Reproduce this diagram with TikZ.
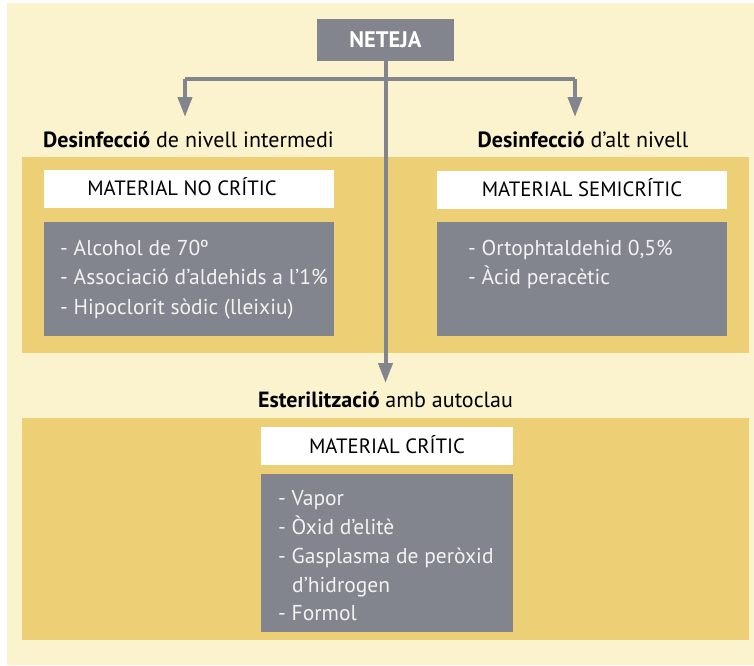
\documentclass[tikz,border=0pt]{standalone}
\usepackage{fontspec}
\setmainfont{PT Sans}
\usetikzlibrary{arrows.meta}
\definecolor{cream}{RGB}{251,242,206}
\definecolor{gold}{RGB}{237,207,118}
\definecolor{slate}{RGB}{130,133,142}
\definecolor{lighttext}{RGB}{242,242,242}
\tikzset{
  band/.style={fill=gold, draw=none, minimum width=727pt, inner sep=0pt},
  whitebox/.style={fill=white, draw=none, minimum height=38pt, inner sep=0pt},
  boxlabel/.style={inner sep=0pt, anchor=base, font=\fontsize{20.7}{24}\selectfont, text=black},
  graybox/.style={fill=slate, draw=none, inner sep=0pt},
  item/.style={anchor=base west, inner sep=0pt, text=lighttext, font=\fontsize{21.5}{26}\selectfont},
  heading/.style={inner sep=0pt, font=\fontsize{22}{26}\selectfont, text=black},
  conn/.style={draw=slate, line width=4pt},
  arr/.style={conn, -{Triangle[width=14pt,length=20pt]}},
}
\begin{document}
\begin{tikzpicture}[x=1pt,y=-1pt]
\useasboundingbox (0,0) rectangle (754,665);
\fill[white] (0,0) rectangle (754,665);
\fill[cream] (7,3) rectangle (754,665);
% bands
\node[band, minimum height=196pt] (band1) at (385.5,255) {};
\node[band, minimum height=222pt] (band2) at (385.5,529) {};
% top node
\node[fill=slate, minimum width=137pt, minimum height=42pt, inner sep=0pt, text=white, font=\fontsize{22.5}{26}\selectfont\bfseries] (neteja) at (385.5,40) {NETEJA};
% connectors
\coordinate (jL) at (185,79);
\coordinate (jR) at (575,79);
\coordinate (tipL) at (185,117);
\coordinate (tipR) at (575,117);
\coordinate (tipB) at (385.5,383);
\draw[conn] (jL) -- (jR);
\draw[arr] (jL) -- (tipL);
\draw[arr] (jR) -- (tipR);
\draw[arr] (neteja.south) -- (tipB);
% headings
\node[heading] (h1) at (188.5,140) {\textbf{Desinfecció} de nivell intermedi};
\node[heading] (h2) at (583,140) {\textbf{Desinfecció} d’alt nivell};
\node[heading] (h3) at (385.5,400) {\textbf{Esterilització} amb autoclau};
% white boxes
\node[whitebox, minimum width=290pt] (w1) at (189,189) {};
\node[whitebox, minimum width=290pt] (w2) at (582,190) {};
\node[whitebox, minimum width=252pt] (w3) at (387,446) {};
\node[boxlabel, anchor=base east] (l1) at (277,195) {MATERIAL NO CRÍTIC};
\node[boxlabel] (l2) at (582,196) {MATERIAL SEMICRÍTIC};
\node[boxlabel] (l3) at (387,453) {MATERIAL CRÍTIC};
% gray boxes
\node[graybox, minimum width=290pt, minimum height=114pt] (g1) at (189,279) {};
\node[graybox, minimum width=290pt, minimum height=114pt] (g2) at (582,279) {};
\node[graybox, minimum width=252pt, minimum height=158pt] (g3) at (387,553) {};
% list items
\node[item] (a1) at (60,255) {- Alcohol de 70º};
\node[item] (a2) at (60,284.5) {- Associació d’aldehids a l’1\%};
\node[item] (a3) at (60,314) {- Hipoclorit sòdic (lleixiu)};
\node[item] (b1) at (468,255) {- Ortophtaldehid 0,5\%};
\node[item] (b2) at (468,284) {- Àcid peracètic};
\node[item] (c1) at (278,505) {- Vapor};
\node[item] (c2) at (278,534) {- Òxid d’elitè};
\node[item] (c3) at (278,563) {- Gasplasma de peròxid};
\node[item] (c4) at (292,592) {d’hidrogen};
\node[item] (c5) at (278,620) {- Formol};
\end{tikzpicture}
\end{document}
